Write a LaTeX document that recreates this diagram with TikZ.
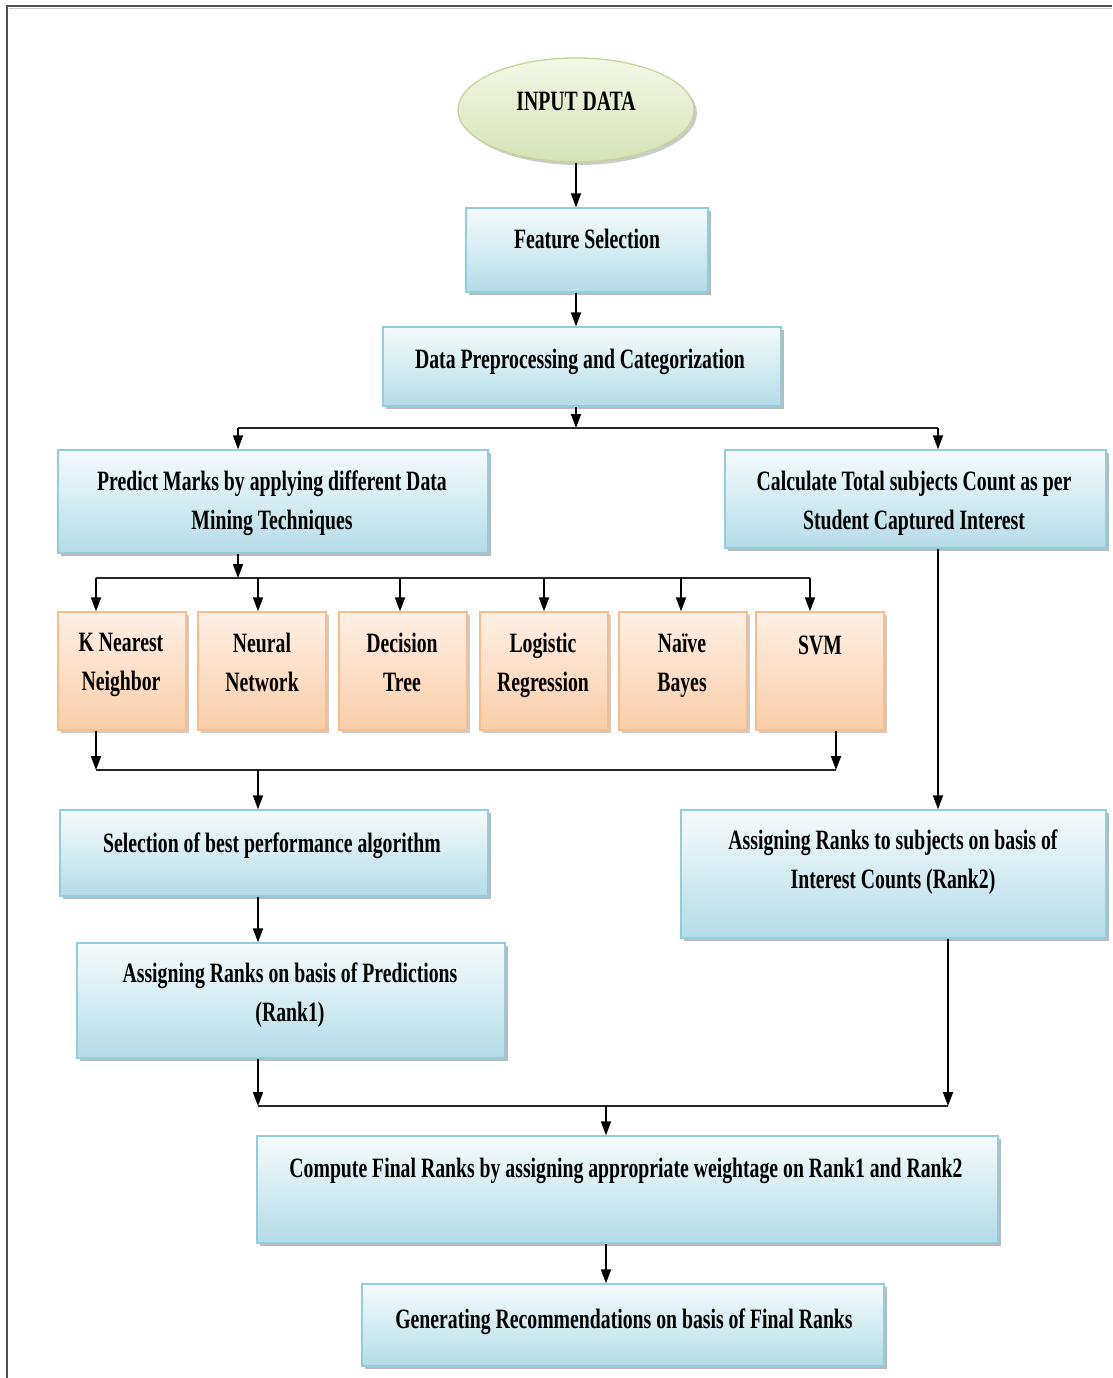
\documentclass[tikz,border=0pt]{standalone}
\usepackage{fontspec}
\setmainfont[FakeStretch=0.705]{Liberation Serif}
\usetikzlibrary{shapes.geometric,shadows,arrows.meta}

\definecolor{boxtop}{HTML}{F6FBFD}
\definecolor{boxbot}{HTML}{B4DCE7}
\definecolor{boxline}{HTML}{93CDDD}
\definecolor{ortop}{HTML}{FEF0E6}
\definecolor{orbot}{HTML}{FACDA8}
\definecolor{orline}{HTML}{F8BD8C}
\definecolor{grtop}{HTML}{F4F8E9}
\definecolor{grbot}{HTML}{D5E3B5}
\definecolor{grline}{HTML}{C3D69B}
\definecolor{frame}{HTML}{505050}

\tikzset{
  x=1pt, y=-1pt,
  boxshade/.style={draw=boxline, line width=1.3pt, top color=boxtop, bottom color=boxbot,
    drop shadow={shadow xshift=3pt, shadow yshift=-3pt, fill=black!45, opacity=.6},
    rectangle, inner sep=0pt},
  algbox/.style={draw=orline, line width=1.3pt, top color=ortop, bottom color=orbot,
    drop shadow={shadow xshift=3pt, shadow yshift=-3pt, fill=black!40, opacity=.5},
    rectangle, inner sep=0pt, minimum width=128pt, minimum height=118pt},
  startnode/.style={ellipse, draw=grline, line width=1.3pt, top color=grtop, bottom color=grbot,
    drop shadow={shadow xshift=3pt, shadow yshift=-3pt, fill=black!40, opacity=.5},
    inner sep=0pt, minimum width=236pt, minimum height=104pt},
  lbl/.style={font=\fontsize{28}{39}\selectfont\bfseries, text=black, align=center, inner sep=0pt,
    execute at begin node=\strut, execute at end node=\strut},
  arr/.style={line width=1.7pt, -{Triangle[width=10pt,length=14pt]}},
  bar/.style={line width=2pt, draw=black!85}
}

\begin{document}
\begin{tikzpicture}
\useasboundingbox (0,0) rectangle (1112,1378);
\fill[white] (0,0) rectangle (1112,1378);

% page frame
\draw[frame, line width=2.5pt] (7,1378) -- (7,6) -- (1112,6);
\draw[black!20, line width=1pt] (9,9) -- (1112,9);

% boxes
\node[startnode] (inp) at (576,110) {};
\node[boxshade, minimum width=242pt, minimum height=84pt] (fs) at (587,250) {};
\node[boxshade, minimum width=398pt, minimum height=79pt] (dp) at (582,366.5) {};
\node[boxshade, minimum width=430pt, minimum height=103pt] (pm) at (273,501.5) {};
\node[boxshade, minimum width=381pt, minimum height=98pt] (ct) at (915.5,499) {};

\node[algbox] (knn) at (122,671) {};
\node[algbox] (nn)  at (262,671) {};
\node[algbox] (dt)  at (403,671) {};
\node[algbox] (lr)  at (544,671) {};
\node[algbox] (nb)  at (683,671) {};
\node[algbox] (svm) at (820,671) {};

\node[boxshade, minimum width=428pt, minimum height=86pt] (sel) at (274,853) {};
\node[boxshade, minimum width=425pt, minimum height=128pt] (ars) at (893.5,874) {};
\node[boxshade, minimum width=428pt, minimum height=115pt] (arp) at (291,1000.5) {};
\node[boxshade, minimum width=741pt, minimum height=107pt] (cf) at (627.5,1189.5) {};
\node[boxshade, minimum width=522pt, minimum height=82pt] (gen) at (623,1325) {};

% labels
\node[lbl] (inp-t) at (576,103) {INPUT DATA};
\node[lbl] (fs-t)  at (587,241) {Feature Selection};
\node[lbl] (dp-t)  at (580,361) {Data Preprocessing and Categorization};
\node[lbl] (pm-t)  at (272,506) {Predict Marks by applying different Data\\Mining Techniques};
\node[lbl] (ct-t)  at (914,506) {Calculate Total subjects Count as per\\Student Captured Interest};
\node[lbl] (knn-t) at (121,668) {K Nearest\\Neighbor};
\node[lbl] (nn-t)  at (262,668) {Neural\\Network};
\node[lbl] (dt-t)  at (402,668) {Decision\\Tree};
\node[lbl] (lr-t)  at (543,668) {Logistic\\Regression};
\node[lbl] (nb-t)  at (682,668) {Naïve\\Bayes};
\node[lbl] (svm-t) at (820,647) {SVM};
\node[lbl] (sel-t) at (272,845) {Selection of best performance algorithm};
\node[lbl] (ars-t) at (893,865) {Assigning Ranks to subjects on basis of\\Interest Counts (Rank2)};
\node[lbl] (arp-t) at (290,998) {Assigning Ranks on basis of Predictions\\(Rank1)};
\node[lbl] (cf-t)  at (626,1170) {Compute Final Ranks by assigning appropriate weightage on Rank1 and Rank2};
\node[lbl] (gen-t) at (624,1321) {Generating Recommendations on basis of Final Ranks};

% junction points of the bus lines
\coordinate (j1) at (576,428);
\coordinate (j1l) at (238,428);
\coordinate (j1r) at (938,428);
\coordinate (j2) at (238,578);
\coordinate (j2l) at (96,578);
\coordinate (j2r) at (810,578);
\coordinate (j3l) at (96,770);
\coordinate (j3r) at (836,770);
\coordinate (j3) at (258,770);
\coordinate (j4l) at (258,1106);
\coordinate (j4r) at (948,1106);
\coordinate (j4) at (606,1106);

% connectors
\draw[arr] (inp.south) -- (inp.south |- fs.north);
\draw[arr] (fs.south -| inp.south) -- (inp.south |- dp.north);
\draw[arr] (dp.south -| j1) -- (j1);
\draw[bar] (j1l) -- (j1r);
\draw[arr] (j1l) -- (j1l |- pm.north);
\draw[arr] (j1r) -- (j1r |- ct.north);

\draw[arr] (pm.south -| j2) -- (j2);
\draw[bar] (j2l) -- (j2r);
\draw[arr] (j2l) -- (j2l |- knn.north);
\draw[arr] (258,578) -- (nn.north -| 258,0);
\draw[arr] (400,578) -- (dt.north -| 400,0);
\draw[arr] (544,578) -- (lr.north -| 544,0);
\draw[arr] (681,578) -- (nb.north -| 681,0);
\draw[arr] (j2r) -- (j2r |- svm.north);

\draw[arr] (knn.south -| j3l) -- (j3l);
\draw[arr] (svm.south -| j3r) -- (j3r);
\draw[bar] (j3l) -- (j3r);
\draw[arr] (j3) -- (j3 |- sel.north);

\draw[arr] (ct.south -| j1r) -- (j1r |- ars.north);
\draw[arr] (sel.south -| j3) -- (j3 |- arp.north);

\draw[arr] (arp.south -| j4l) -- (j4l);
\draw[arr] (ars.south -| j4r) -- (j4r);
\draw[bar] (j4l) -- (j4r);
\draw[arr] (j4) -- (j4 |- cf.north);
\draw[arr] (cf.south -| j4) -- (j4 |- gen.north);
\end{tikzpicture}
\end{document}
